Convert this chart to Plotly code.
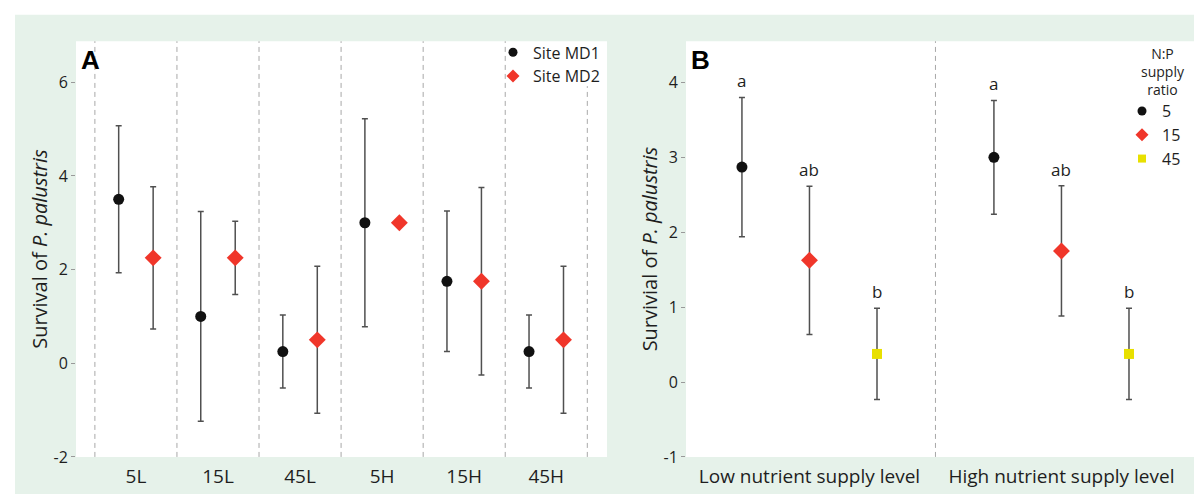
import plotly.graph_objects as go

# ---------------- Data ----------------
# Panel A
groups_a = ["5L", "15L", "45L", "5H", "15H", "45H"]
md1_mean = [3.5, 1.0, 0.25, 3.0, 1.75, 0.25]
md1_err = [1.57, 2.24, 0.78, 2.22, 1.5, 0.78]
md2_mean = [2.25, 2.25, 0.5, 3.0, 1.75, 0.5]
md2_err = [1.52, 0.78, 1.57, 0.0, 2.0, 1.57]
yticks_a = [-2, 0, 2, 4, 6]

# Panel B
levels_b = ["Low nutrient supply level", "High nutrient supply level"]
ratio_names = ["5", "15", "45"]
r5_mean = [2.87, 3.0]
r5_err = [0.93, 0.76]
r15_mean = [1.625, 1.75]
r15_err = [0.99, 0.87]
r45_mean = [0.375, 0.375]
r45_err = [0.61, 0.61]
r5_letters = ["a", "a"]
r15_letters = ["ab", "ab"]
r45_letters = ["b", "b"]
yticks_b = [-1, 0, 1, 2, 3, 4]
legend_b_title = ["N:P", "supply", "ratio"]

# ---------------- Style ----------------
W, H = 1202, 501
FONT = "Open Sans"
TXT = "#1e1e1e"
GREEN = "#e6f2ea"
BLACK = "#111111"
RED = "#f0362a"
YELLOW = "#e8e000"
ERRC = "#505050"
DASHC = "#a8a8a8"

def px_x(p):
    return p / W

def px_y(p):
    return 1 - p / H

fig = go.Figure()

idx_a = list(range(len(groups_a)))
off_a = 0.21

def err(arr):
    return dict(type="data", array=arr, visible=True, color=ERRC, thickness=1.5, width=3)

sym_a = [("Site MD1", "circle", 11, 9, BLACK), ("Site MD2", "diamond", 13, 10, RED)]
data_a = [(md1_mean, md1_err, -off_a), (md2_mean, md2_err, off_a)]
for (name, sym, sz, lsz, col), (mean, e, off) in zip(sym_a, data_a):
    fig.add_trace(go.Scatter(
        x=[i + off for i in idx_a], y=mean, mode="markers", name=name, showlegend=False,
        marker=dict(symbol=sym, size=sz, color=col),
        error_y=err(e), xaxis="x", yaxis="y"))
    # legend entry (smaller symbol like the original key)
    fig.add_trace(go.Scatter(
        x=[None], y=[None], mode="markers", name=name, legend="legend",
        marker=dict(symbol=sym, size=lsz, color=col), xaxis="x", yaxis="y"))

idx_b = list(range(len(levels_b)))
off_b = 0.268
series_b = [
    (ratio_names[0], r5_mean, r5_err, r5_letters, -off_b, "circle", 11, 9, BLACK),
    (ratio_names[1], r15_mean, r15_err, r15_letters, 0.0, "diamond", 13, 10, RED),
    (ratio_names[2], r45_mean, r45_err, r45_letters, off_b, "square", 10, 8, YELLOW),
]
annotations = []
for name, mean, e, letters, off, sym, sz, lsz, col in series_b:
    xs = [i + off for i in idx_b]
    fig.add_trace(go.Scatter(
        x=xs, y=mean, mode="markers", name=name, showlegend=False,
        marker=dict(symbol=sym, size=sz, color=col),
        error_y=err(e), xaxis="x2", yaxis="y2"))
    fig.add_trace(go.Scatter(
        x=[None], y=[None], mode="markers", name=name, legend="legend2",
        marker=dict(symbol=sym, size=lsz, color=col), xaxis="x2", yaxis="y2"))
    for xv, m, ev, lt in zip(xs, mean, e, letters):
        annotations.append(dict(
            x=xv, y=m + ev, xref="x2", yref="y2", text=lt, showarrow=False,
            yanchor="bottom", yshift=3, font=dict(family=FONT, size=17, color=TXT)))

# legend B title (centred lines)
annotations.append(dict(x=px_x(1155), y=px_y(35), xref="paper", yref="paper",
                        text="<br>".join(legend_b_title), showarrow=False, align="center",
                        xanchor="center", yanchor="top",
                        font=dict(family=FONT, size=14, color=TXT)))

# panel letters
for lab, xp in (("A", 71), ("B", 681)):
    annotations.append(dict(x=px_x(xp), y=px_y(36), xref="paper", yref="paper",
                            text="<b>%s</b>" % lab, showarrow=False,
                            xanchor="left", yanchor="top",
                            font=dict(family="Liberation Sans", size=26, color="#000")))

shapes = []
# green background
shapes.append(dict(type="rect", xref="paper", yref="paper", x0=px_x(7), x1=px_x(1195),
                   y0=px_y(497), y1=px_y(7), fillcolor=GREEN, line=dict(width=0), layer="below"))
# white plot areas
for xr, yr in (("x domain", "y domain"), ("x2 domain", "y2 domain")):
    shapes.append(dict(type="rect", xref=xr, yref=yr, x0=0, x1=1, y0=0, y1=1,
                       fillcolor="white", line=dict(width=0), layer="below"))
# dividers panel A
for k in range(len(groups_a) + 1):
    top = 0.892 if k == len(groups_a) else 1.0
    shapes.append(dict(type="line", xref="x", yref="y domain", x0=k - 0.5, x1=k - 0.5,
                       y0=0, y1=top, line=dict(color=DASHC, width=1, dash="5px,4px"), layer="below"))
# divider panel B
shapes.append(dict(type="line", xref="x2", yref="y2 domain", x0=0.5, x1=0.5, y0=0, y1=1,
                   line=dict(color=DASHC, width=1, dash="5px,4px"), layer="below"))

ydom = [px_y(459), px_y(34)]
tickfont = dict(family=FONT, size=16, color=TXT)
xtickfont = dict(family=FONT, size=19, color=TXT)
titlefont = dict(family=FONT, size=20, color=TXT)

fig.update_layout(
    width=W, height=H, margin=dict(l=0, r=0, t=0, b=0),
    paper_bgcolor="white", plot_bgcolor="white",
    font=dict(family=FONT, color=TXT),
    shapes=shapes, annotations=annotations,
    xaxis=dict(domain=[px_x(68), px_x(599)], range=[-0.73, 5.74],
               tickvals=idx_a, ticktext=groups_a, showgrid=False, zeroline=False,
               showline=False, ticks="", tickfont=xtickfont, ticklabelstandoff=6),
    yaxis=dict(domain=ydom, range=[-2, 6.875], tickvals=yticks_a,
               ticktext=[str(v) for v in yticks_a],
               showgrid=False, zeroline=False, showline=False, ticks="outside",
               ticklen=4, tickcolor="#999", tickwidth=1, tickfont=tickfont,
               title=dict(text="Survival of <i>P. palustris</i>", standoff=0, font=titlefont)),
    xaxis2=dict(domain=[px_x(678), px_x(1186)], range=[-0.49, 1.526],
                tickvals=idx_b, ticktext=levels_b, showgrid=False, zeroline=False,
                showline=False, ticks="", tickfont=xtickfont, anchor="y2",
                ticklabelstandoff=6),
    yaxis2=dict(domain=ydom, range=[-1, 4.55], tickvals=yticks_b,
                ticktext=[str(v) for v in yticks_b], anchor="x2",
                showgrid=False, zeroline=False, showline=False, ticks="outside",
                ticklen=4, tickcolor="#999", tickwidth=1, tickfont=tickfont,
                title=dict(text="Survivial of <i>P. palustris</i>", standoff=0, font=titlefont)),
    legend=dict(x=px_x(597), y=px_y(28), xanchor="right", yanchor="top",
                bgcolor="rgba(0,0,0,0)", font=dict(family=FONT, size=16, color=TXT),
                itemsizing="trace", itemwidth=30, tracegroupgap=0),
    legend2=dict(x=px_x(1178), y=px_y(88), xanchor="right", yanchor="top",
                 bgcolor="rgba(0,0,0,0)", font=dict(family=FONT, size=16, color=TXT),
                 itemsizing="trace", itemwidth=30, tracegroupgap=0),
    showlegend=True,
)

fig.write_html("out.html")
